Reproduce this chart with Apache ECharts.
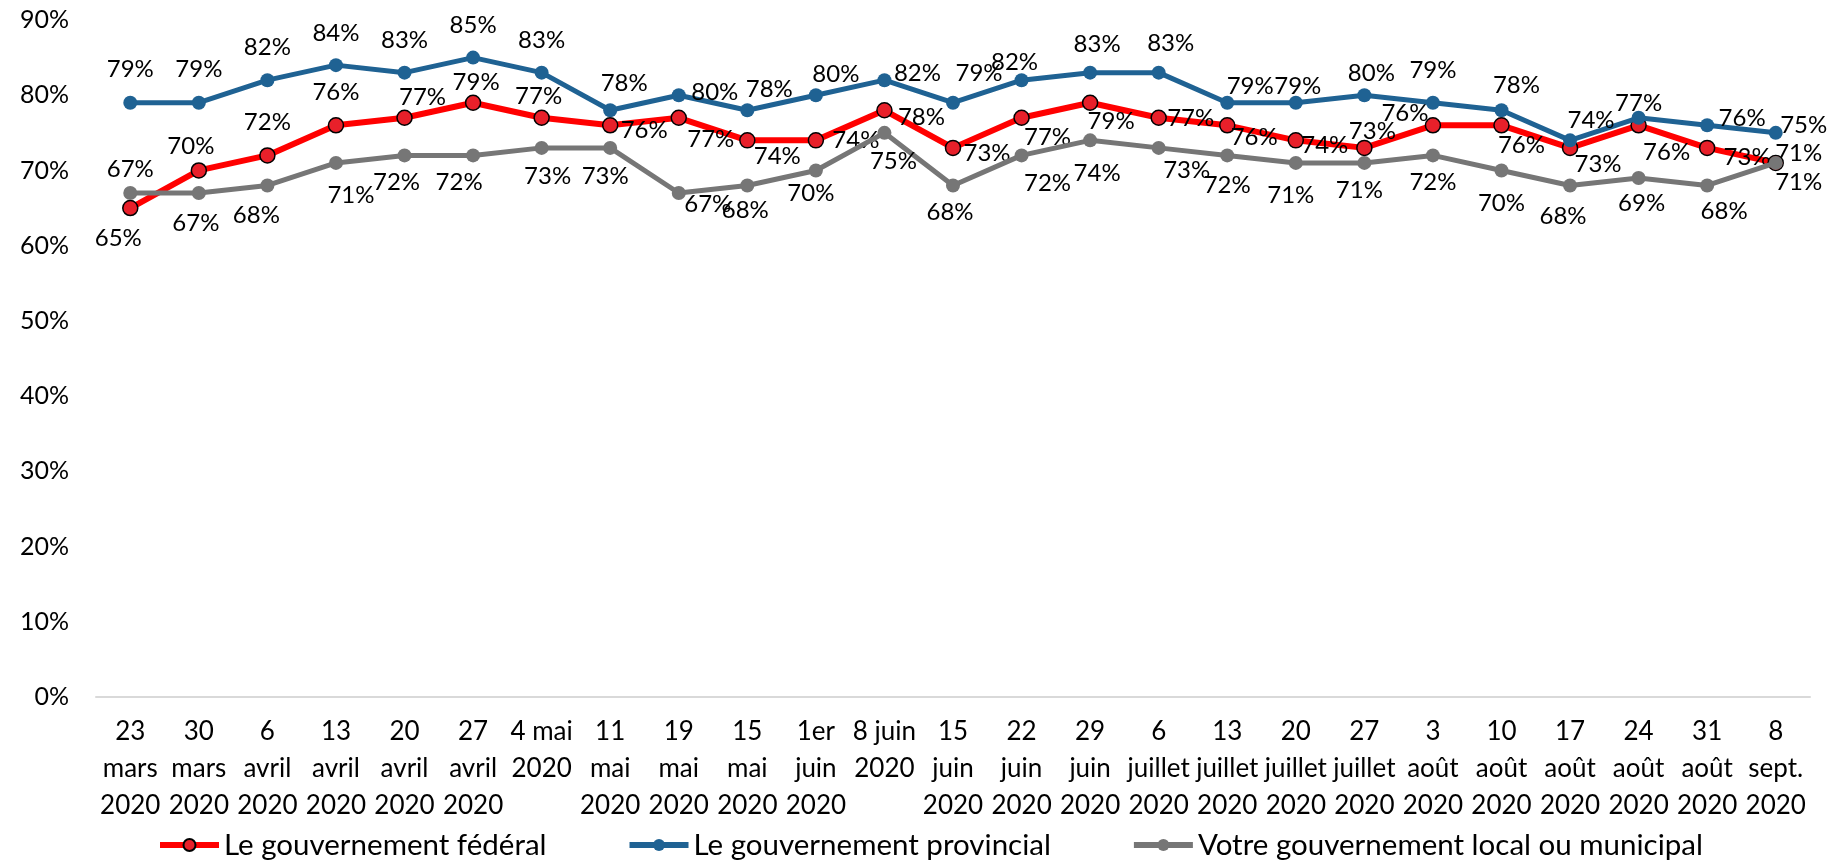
<!DOCTYPE html>
<html>
<head>
<meta charset="utf-8">
<script src="https://cdn.jsdelivr.net/npm/echarts@6/dist/echarts.min.js"></script>
<style>
  html, body { margin: 0; padding: 0; background: #ffffff; }
  #chart { width: 1843px; height: 861px; }
</style>
</head>
<body>
<div id="chart"></div>
<script>
// Survey dates (weekly waves, 2020)
const categories = [
  '23\nmars\n2020', '30\nmars\n2020', '6\navril\n2020', '13\navril\n2020', '20\navril\n2020',
  '27\navril\n2020', '4 mai\n2020', '11\nmai\n2020', '19\nmai\n2020', '15\nmai\n2020',
  '1er\njuin\n2020', '8 juin\n2020', '15\njuin\n2020', '22\njuin\n2020', '29\njuin\n2020',
  '6\njuillet\n2020', '13\njuillet\n2020', '20\njuillet\n2020', '27\njuillet\n2020', '3\naoût\n2020',
  '10\naoût\n2020', '17\naoût\n2020', '24\naoût\n2020', '31\naoût\n2020', '8\nsept.\n2020'
];

const seriesNames = [
  'Le gouvernement fédéral',
  'Le gouvernement provincial',
  'Votre gouvernement local ou municipal'
];

// Percentages per wave
const federal    = [65, 70, 72, 76, 77, 79, 77, 76, 77, 74, 74, 78, 73, 77, 79, 77, 76, 74, 73, 76, 76, 73, 76, 73, 71];
const provincial = [79, 79, 82, 84, 83, 85, 83, 78, 80, 78, 80, 82, 79, 82, 83, 83, 79, 79, 80, 79, 78, 74, 77, 76, 75];
const local      = [67, 67, 68, 71, 72, 72, 73, 73, 67, 68, 70, 75, 68, 72, 74, 73, 72, 71, 71, 72, 70, 68, 69, 68, 71];

// Y-axis ticks
const yTicks = { min: 0, max: 90, interval: 10 };

// Value-label nudges (px, from the point to the label centre) so labels don't collide
const federalLabelShift = [
  [-12, 30], [-8, -24], [0, -33], [0, -33], [18, -21], [3, -20], [-3, -22], [34, 5], [32, 21], [30, 16],
  [40, 0], [37, 7], [34, 5], [26, 19], [21, 19], [32, 0], [27, 12], [29, 5], [8, -17], [-28, -12],
  [20, 20], [28, 16], [28, 27], [40, 9], [23, -10]
];
const provincialLabelShift = [
  [0, -33], [0, -33], [0, -33], [0, -32], [0, -32], [0, -32], [0, -32], [14, -27], [36, -3], [22, -21],
  [20, -21], [33, -7], [26, -29], [-7, -18], [7, -28], [12, -29], [23, -16], [2, -16], [7, -22], [0, -32],
  [15, -25], [21, -20], [0, -15], [35, -7], [28, -8]
];
const localLabelShift = [
  [0, -24], [-3, 30], [-11, 30], [15, 32], [-8, 27], [-14, 27], [6, 28], [-5, 28], [29, 11], [-2, 25],
  [-5, 23], [9, 28], [-3, 27], [26, 28], [7, 33], [28, 22], [0, 30], [-5, 32], [-5, 27], [0, 27],
  [0, 33], [-7, 31], [3, 25], [17, 26], [23, 19]
];

const FONT = 'Lato, "Open Sans", sans-serif';

function withLabels(values, shifts) {
  return values.map((v, i) => ({
    value: v,
    label: { position: 'inside', offset: shifts[i] }
  }));
}

const labelStyle = {
  show: true,
  formatter: p => p.value + '%',
  fontFamily: FONT,
  fontSize: 24,
  color: '#000000',
  align: 'center',
  verticalAlign: 'middle'
};

const chart = echarts.init(document.getElementById('chart'), null, { renderer: 'canvas' });

chart.setOption({
  backgroundColor: '#ffffff',
  animation: false,
  textStyle: { fontFamily: FONT },
  grid: { left: 96, right: 33, top: 20, bottom: 164, containLabel: false },
  legend: {
    top: 825,
    left: 152,
    itemGap: 80,
    itemWidth: 59,
    itemHeight: 15,
    lineStyle: { width: 6 },
    textStyle: { fontFamily: FONT, fontSize: 29.5, color: '#000000' },
    data: seriesNames
  },
  xAxis: {
    type: 'category',
    data: categories,
    boundaryGap: true,
    axisLine: { show: true, lineStyle: { color: '#D9D9D9', width: 2 } },
    axisTick: { show: false },
    axisLabel: {
      interval: 0,
      margin: 16,
      fontFamily: FONT,
      fontSize: 26,
      lineHeight: 37,
      color: '#000000'
    },
    splitLine: { show: false }
  },
  yAxis: {
    type: 'value',
    min: yTicks.min,
    max: yTicks.max,
    interval: yTicks.interval,
    axisLine: { show: false },
    axisTick: { show: false },
    splitLine: { show: false },
    axisLabel: {
      formatter: '{value}%',
      margin: 27,
      fontFamily: FONT,
      fontSize: 25,
      color: '#000000'
    }
  },
  series: [
    {
      name: seriesNames[0],
      type: 'line',
      data: withLabels(federal, federalLabelShift),
      symbol: 'circle',
      symbolSize: 15,
      lineStyle: { color: '#FF0000', width: 6 },
      itemStyle: { color: '#E8202A', borderColor: '#000000', borderWidth: 1.5 },
      label: labelStyle,
      z: 2
    },
    {
      name: seriesNames[1],
      type: 'line',
      data: withLabels(provincial, provincialLabelShift),
      symbol: 'circle',
      symbolSize: 14,
      lineStyle: { color: '#1F6293', width: 5 },
      itemStyle: { color: '#1F6293' },
      label: labelStyle,
      z: 3
    },
    {
      name: seriesNames[2],
      type: 'line',
      data: withLabels(local, localLabelShift),
      symbol: 'circle',
      symbolSize: 14,
      lineStyle: { color: '#767676', width: 5 },
      itemStyle: { color: '#767676' },
      label: labelStyle,
      z: 4
    }
  ]
});
</script>
</body>
</html>
